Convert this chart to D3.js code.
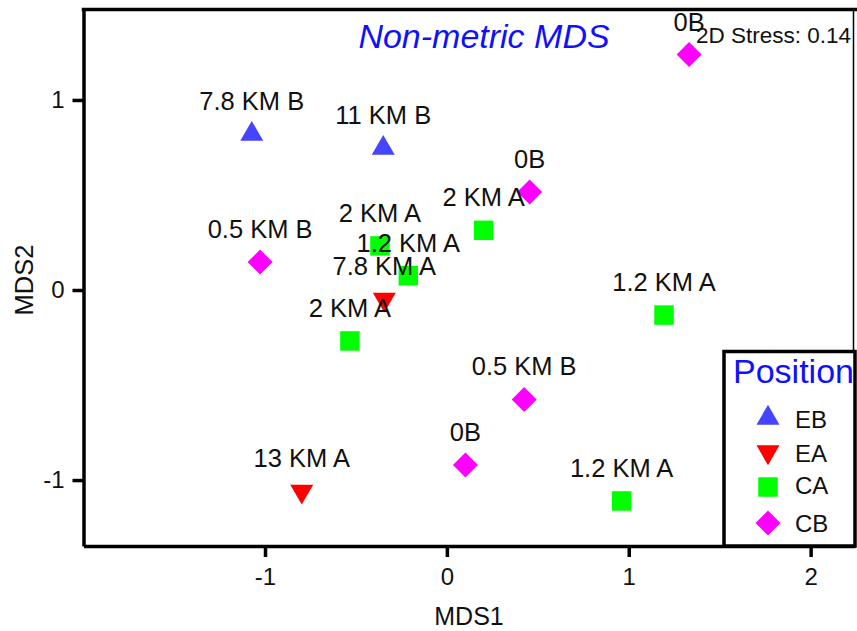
<!DOCTYPE html>
<html>
<head>
<meta charset="utf-8">
<script src="https://cdn.jsdelivr.net/npm/d3@7"></script>
<style>
  html, body { margin: 0; padding: 0; background: #fff; }
  svg { display: block; font-family: "Liberation Sans", Arial, sans-serif; }
</style>
</head>
<body>
<svg id="chart" width="857" height="631"></svg>
<script>
// NMDS ordination of sampling sites
const siteLabels = ["7.8 KM B", "11 KM B", "13 KM A", "7.8 KM A", "2 KM A", "1.2 KM A", "2 KM A",
                    "2 KM A", "1.2 KM A", "1.2 KM A", "0.5 KM B", "0B", "0B", "0.5 KM B", "0B"];
const sitePositions = ["EB", "EB", "EA", "EA", "CA", "CA", "CA",
                       "CA", "CA", "CA", "CB", "CB", "CB", "CB", "CB"];
const mds1 = [-1.073, -0.350, -0.798, -0.344, -0.368, -0.212, -0.533,
               0.202,  1.194,  0.961, -1.027,  1.332,  0.455,  0.425,  0.102];
const mds2 = [ 0.820,  0.746, -1.059, -0.049,  0.232,  0.075, -0.268,
               0.314, -0.132, -1.110,  0.147,  1.239,  0.516, -0.576, -0.921];
const positionGroups = ["EB", "EA", "CA", "CB"];
const xTicks = [-1, 0, 1, 2];
const yTicks = [-1, 0, 1];
const stressValue = 0.14;

(function () {
const svg = d3.select("#chart");
const plotLeft = 83.5, plotRight = 855, plotTop = 9.5, plotBottom = 546;

const x = d3.scaleLinear().domain([-1.998, 2.244]).range([plotLeft, plotRight]);
const y = d3.scaleLinear().domain([-1.347, 1.476]).range([plotBottom, plotTop]);

const color = d3.scaleOrdinal().domain(positionGroups)
  .range(["#4545ff", "#ff0000", "#00ff00", "#ff00ff"]);

// marker shapes per group: up triangle, down triangle, square, diamond
function markerPath(group) {
  if (group === "EB" || group === "EA") return d3.symbol(d3.symbolTriangle, 229)();
  if (group === "CA") return d3.symbol(d3.symbolSquare, 380)();
  return d3.symbol(d3.symbolSquare, 312)();
}
function markerRotation(group) {
  if (group === "EA") return 180;
  if (group === "CB") return 45;
  return 0;
}

const points = siteLabels.map((label, i) => ({
  label, group: sitePositions[i], v1: mds1[i], v2: mds2[i]
}));

// points
svg.append("g").selectAll("path").data(points).join("path")
  .attr("d", d => markerPath(d.group))
  .attr("transform", d => `translate(${x(d.v1)},${y(d.v2)}) rotate(${markerRotation(d.group)})`)
  .attr("fill", d => color(d.group));

// site labels above each point
svg.append("g").selectAll("text").data(points).join("text")
  .attr("x", d => x(d.v1))
  .attr("y", d => y(d.v2) - 24)
  .attr("text-anchor", "middle")
  .attr("font-size", 25.5)
  .attr("fill", "#111")
  .text(d => d.label);

// title and stress
svg.append("text")
  .attr("x", 484).attr("y", 48)
  .attr("text-anchor", "middle")
  .attr("font-size", 34)
  .attr("font-style", "italic")
  .attr("fill", "#1010ff")
  .text("Non-metric MDS");

svg.append("text")
  .attr("x", 696).attr("y", 43)
  .attr("font-size", 22.5)
  .attr("fill", "#111")
  .text(`2D Stress: ${stressValue}`);

// axes
const yAxis = svg.append("g")
  .attr("transform", `translate(${plotLeft},0)`)
  .call(d3.axisLeft(y).tickValues(yTicks).tickSize(11).tickSizeOuter(0).tickPadding(8)
        .tickFormat(d3.format("d")));
const xAxis = svg.append("g")
  .attr("transform", `translate(0,${plotBottom})`)
  .call(d3.axisBottom(x).tickValues(xTicks).tickSize(11).tickSizeOuter(0).tickPadding(11)
        .tickFormat(d3.format("d")));
[xAxis, yAxis].forEach(a => {
  a.selectAll("path.domain, line").attr("stroke", "#000").attr("stroke-width", 3.5);
  a.selectAll("text").attr("font-size", 24).attr("fill", "#111")
    .attr("font-family", "'Liberation Sans', Arial, sans-serif")
    .text(d => d < 0 ? "-" + Math.abs(d) : d);
});

// top and right frame lines
svg.append("line").attr("x1", plotLeft - 1.75).attr("x2", 857).attr("y1", plotTop).attr("y2", plotTop)
  .attr("stroke", "#000").attr("stroke-width", 3.5);
svg.append("line").attr("x1", 853.5).attr("x2", 853.5).attr("y1", plotTop).attr("y2", plotBottom)
  .attr("stroke", "#000").attr("stroke-width", 1.5);

// axis titles
svg.append("text")
  .attr("x", 469).attr("y", 625)
  .attr("text-anchor", "middle")
  .attr("font-size", 25)
  .attr("fill", "#111")
  .text("MDS1");
svg.append("text")
  .attr("transform", "translate(33,280) rotate(-90)")
  .attr("text-anchor", "middle")
  .attr("font-size", 25.5)
  .attr("fill", "#111")
  .text("MDS2");

// legend
const legend = svg.append("g");
legend.append("rect")
  .attr("x", 724).attr("y", 351.5).attr("width", 131).attr("height", 194.5)
  .attr("fill", "#fff").attr("stroke", "#000").attr("stroke-width", 3.5);
legend.append("text")
  .attr("x", 733).attr("y", 383)
  .attr("font-size", 34)
  .attr("fill", "#1010ff")
  .text("Position");
const legendY = [418, 452, 487, 523];
const legendTextY = [428, 462, 494, 532];
legend.selectAll("path.key").data(positionGroups).join("path")
  .attr("class", "key")
  .attr("d", g => markerPath(g))
  .attr("transform", (g, i) => `translate(768,${legendY[i]}) rotate(${markerRotation(g)})`)
  .attr("fill", g => color(g));
legend.selectAll("text.key").data(positionGroups).join("text")
  .attr("class", "key")
  .attr("x", 795)
  .attr("y", (g, i) => legendTextY[i])
  .attr("font-size", 24)
  .attr("fill", "#111")
  .text(g => g);
})();
</script>
</body>
</html>
